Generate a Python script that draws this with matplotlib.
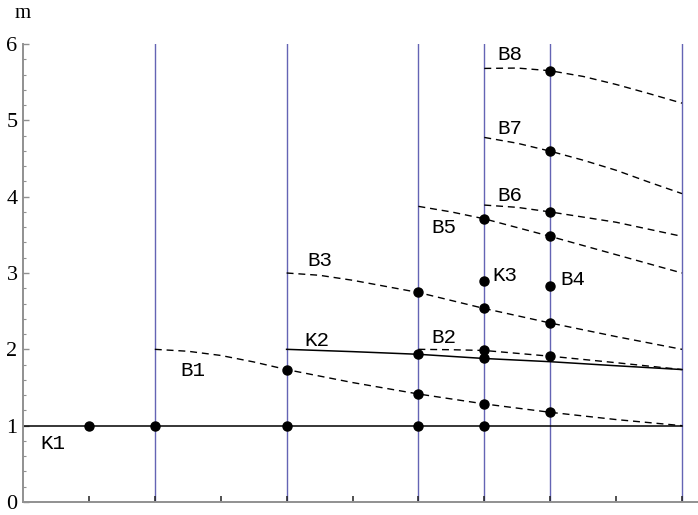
import numpy as np, matplotlib
matplotlib.use('Agg')
import matplotlib.pyplot as plt

plt.rcParams['font.monospace'] = ['Liberation Mono', 'Courier New', 'DejaVu Sans Mono']
plt.rcParams['font.serif'] = ['Liberation Serif', 'Times New Roman', 'DejaVu Serif']
plt.rcParams['font.family'] = 'serif'

# ── data ───────────────────────────────────────────────────────────────
VLINES = [2, 4, 6, 7, 8, 10]

k1_x = [0, 10]
k1_m = [1.0, 1.0]
k2_x = [4, 5, 6, 7, 8, 9, 10]
k2_m = [2.0, 1.97, 1.935, 1.88, 1.838, 1.785, 1.735]

b1_x = [2, 2.5, 3, 3.5, 4, 5, 6, 7, 8, 9, 10]
b1_m = [2.0, 1.975, 1.92, 1.835, 1.735, 1.565, 1.415, 1.285, 1.175, 1.08, 1.0]
b2_x = [6, 6.5, 7, 8, 9, 10]
b2_m = [2.0, 1.995, 1.985, 1.91, 1.825, 1.735]
b3_x = [4, 4.5, 5, 5.5, 6, 7, 8, 9, 10]
b3_m = [3.0, 2.97, 2.905, 2.825, 2.745, 2.535, 2.345, 2.167, 2.0]
b5_x = [6, 6.5, 7, 8, 9, 10]
b5_m = [3.873, 3.80, 3.71, 3.48, 3.24, 3.0]
b6_x = [7, 7.5, 8, 9, 10]
b6_m = [3.89, 3.86, 3.80, 3.665, 3.48]
b7_x = [7, 7.5, 8, 8.5, 9, 9.5, 10]
b7_m = [4.776, 4.70, 4.596, 4.478, 4.346, 4.19, 4.04]
b8_x = [7, 7.5, 8, 8.5, 9, 9.5, 10]
b8_m = [5.68, 5.685, 5.65, 5.575, 5.47, 5.35, 5.225]

dot_x = [1, 2, 4, 6, 7,   4, 6, 7, 8,   6, 7,   7, 8,   6, 7, 8,   7, 8,   7, 8,   8, 8, 8]
dot_m = [1, 1, 1, 1, 1,   1.735, 1.415, 1.285, 1.175,   1.935, 1.88,   1.985, 1.91,
         2.745, 2.535, 2.345,   2.89, 2.835,   3.71, 3.48,   3.80, 4.596, 5.65]

labels   = ['K1', 'B1', 'K2', 'B3', 'B2', 'K3', 'B4', 'B5', 'B6', 'B7', 'B8']
label_x  = [0.45, 2.58, 4.46, 4.5, 6.38, 7.31, 8.34, 6.38, 7.39, 7.39, 7.39]
label_m  = [0.76, 1.72, 2.12, 3.16, 2.15, 2.97, 2.91, 3.60, 4.02, 4.89, 5.86]

# ── figure ─────────────────────────────────────────────────────────────
W, H = 698, 515
fig = plt.figure(figsize=(W/100, H/100), dpi=100)
ax = fig.add_axes([23/W, 13/H, (W-23)/W, 458/H])
ax.set_xlim(0, (W-23)/65.9)
ax.set_ylim(0, 6)

for xv in VLINES:
    ax.axvline(xv, color='#6464b4', lw=1.0, zorder=1)

ax.plot(k1_x, k1_m, color='black', lw=1.1, zorder=2)
ax.plot(k2_x, k2_m, color='black', lw=1.1, zorder=2)
for bx, bm in [(b1_x, b1_m), (b2_x, b2_m), (b3_x, b3_m), (b5_x, b5_m),
               (b6_x, b6_m), (b7_x, b7_m), (b8_x, b8_m)]:
    ax.plot(bx, bm, color='black', lw=1.0, dashes=(5, 3.5), zorder=2)

ax.plot(dot_x, dot_m, 'o', color='black', ms=6.5, zorder=3)

for t, lx, lm in zip(labels, label_x, label_m):
    ax.text(lx, lm, t, family='monospace', fontsize=15,
            ha='center', va='center')

for s in ['top', 'right']:
    ax.spines[s].set_visible(False)
for s in ['left', 'bottom']:
    ax.spines[s].set_color('#909090')
    ax.spines[s].set_linewidth(1.4)

ax.set_xticks(range(1, 11))
ax.set_xticklabels([])
ax.tick_params(axis='x', direction='in', length=4, width=1.1, color='#222222')
ax.set_yticks(range(0, 7))
ax.set_yticks(np.arange(0, 6.01, 0.2), minor=True)
ax.tick_params(axis='y', which='major', direction='in', length=4, width=1,
               color='#909090', pad=4, labelsize=16)
ax.tick_params(axis='y', which='minor', direction='in', length=2.5, width=0.8,
               color='#909090')

fig.text(23/W, 1 - 14/H, 'm', fontsize=15, ha='center', va='center')

fig.savefig('out.png', dpi=100)
plt.close(fig)
